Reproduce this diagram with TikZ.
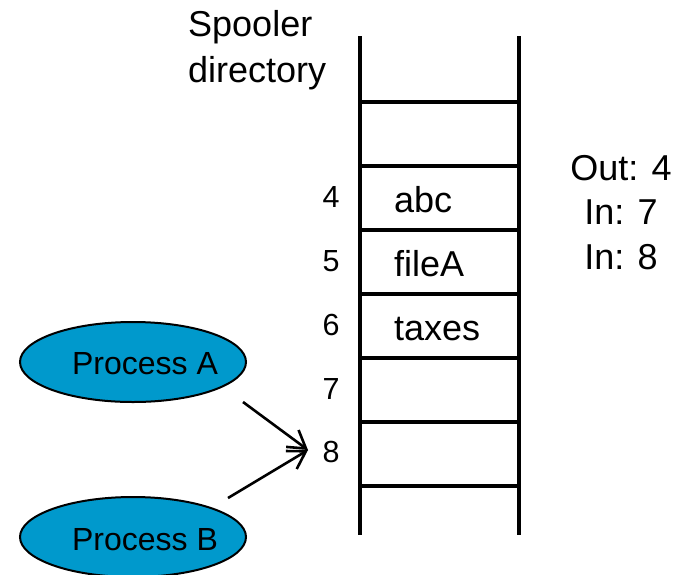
\documentclass[tikz,border=0pt]{standalone}
\usepackage{fontspec}
\setmainfont{Liberation Sans}
\usetikzlibrary{shapes.geometric,arrows.meta}
\definecolor{procblue}{RGB}{0,153,204}
\tikzset{
  ladder/.style={line width=4pt},
  proc/.style={ellipse, draw=black, line width=2pt, fill=procblue,
    minimum width=226pt, minimum height=80pt, inner sep=0pt},
  proclabel/.style={font=\fontsize{32}{38}\selectfont, inner sep=0pt},
  bigtext/.style={font=\fontsize{36}{44}\selectfont, inner sep=0pt},
  celltext/.style={font=\fontsize{36}{44}\selectfont, inner sep=0pt, anchor=base west},
  numtext/.style={font=\fontsize{30.5}{36}\selectfont, inner sep=0pt, anchor=base},
  conn/.style={line width=2.6pt, -{Straight Barb[length=17pt,width=21pt]}}
}
\begin{document}
\begin{tikzpicture}[x=1pt,y=-1pt]
\useasboundingbox (0,0) rectangle (684,574);
% ladder
\coordinate (lt) at (360,36);
\coordinate (lb) at (360,535);
\coordinate (rt) at (519,36);
\coordinate (rb) at (519,535);
\draw[ladder] (lt) -- (lb);
\draw[ladder] (rt) -- (rb);
\foreach \y in {102,166,230,294,358,422,486}{
  \draw[ladder] (360,\y) -- (519,\y);
}
% title
\node[bigtext, align=left, anchor=north west, font=\fontsize{36}{46}\selectfont] (title) at (188,10) {Spooler\\directory};
% cell contents
\node[celltext] (abc) at (394,212) {abc};
\node[celltext] (fileA) at (394,276) {fileA};
\node[celltext] (taxes) at (394,340) {taxes};
% slot numbers
\node[numtext] (n4) at (331,207.5) {4};
\node[numtext] (n5) at (331,271.5) {5};
\node[numtext] (n6) at (331,335.5) {6};
\node[numtext] (n7) at (331,399) {7};
\node[numtext] (n8) at (331,462.5) {8};
% pointers
\node[bigtext, align=center, anchor=north, font=\fontsize{36}{44.5}\selectfont] (ptr) at (621,155) {Out: 4\\In: 7\\In: 8};
% processes
\node[proc, label={[proclabel, xshift=12pt, yshift=-1.5pt]center:Process A}] (pa) at (133,362) {};
\node[proc, label={[proclabel, xshift=12pt, yshift=-3pt]center:Process B}] (pb) at (133,537) {};
% arrows
\coordinate (tip) at (308,450);
\coordinate (astart) at (243,402);
\coordinate (bstart) at (228,498);
\draw[conn] (astart) -- (tip);
\draw[conn] (bstart) -- (tip);
\end{tikzpicture}
\end{document}
